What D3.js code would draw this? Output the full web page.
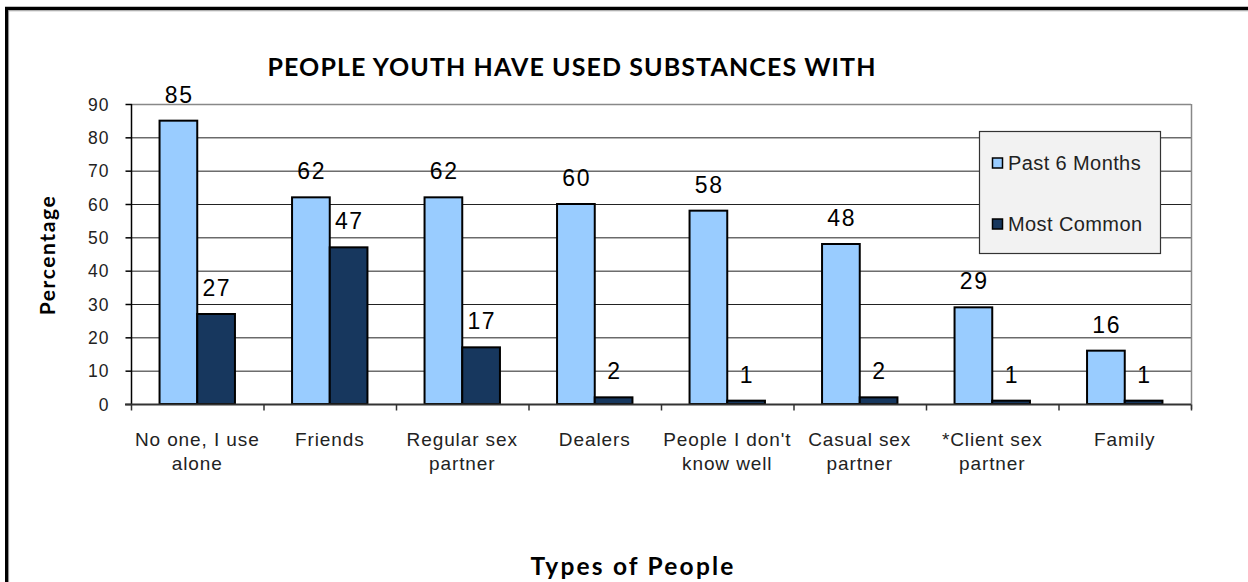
<!DOCTYPE html>
<html><head><meta charset="utf-8">
<script src="https://cdn.jsdelivr.net/npm/d3@7"></script>
<style>body{margin:0;background:#fff;}svg{display:block;}</style>
</head><body>
<svg id="c" width="1248" height="582"></svg>
<script>
const categories = [["No one, I use","alone"],["Friends"],["Regular sex","partner"],["Dealers"],["People I don't","know well"],["Casual sex","partner"],["*Client sex","partner"],["Family"]];
const seriesNames = ["Past 6 Months","Most Common"];
const past6 = [85,62,62,60,58,48,29,16];
const mostCommon = [27,47,17,2,1,2,1,1];
const yTicks = [0,10,20,30,40,50,60,70,80,90];
const colors = ["#99CCFF","#17375E"];

const svg = d3.select("#c");
const ARIAL = "Liberation Sans, Arial, sans-serif";
const CAL = "Lato, 'Open Sans', sans-serif";
// frame
svg.append("rect").attr("x",0).attr("y",0).attr("width",1248).attr("height",582).attr("fill","#fff");
svg.append("line").attr("x1",5).attr("x2",1248).attr("y1",8.5).attr("y2",8.5).attr("stroke","#000").attr("stroke-width",3.5);
svg.append("line").attr("x1",5).attr("x2",1248).attr("y1",10.8).attr("y2",10.8).attr("stroke","#aaa").attr("stroke-width",1);
svg.append("line").attr("x1",6.5).attr("x2",6.5).attr("y1",7).attr("y2",582).attr("stroke","#000").attr("stroke-width",3);
svg.append("line").attr("x1",8.6).attr("x2",8.6).attr("y1",10).attr("y2",582).attr("stroke","#888").attr("stroke-width",1);

const L=131, R=1191, T=104, B=404;
const x = d3.scaleBand().domain(d3.range(categories.length)).range([L,R]).paddingInner(0).paddingOuter(0);
const y = d3.scaleLinear().domain([0,90]).range([B,T]);
const barW = 37.7;

// gridlines
svg.append("g").selectAll("line").data(yTicks.filter(t=>t>0&&t<90)).join("line")
  .attr("x1",L).attr("x2",R).attr("y1",d=>y(d)+0.5).attr("y2",d=>y(d)+0.5).attr("stroke","#222").attr("stroke-width",1);
// plot border top/right gray
svg.append("line").attr("x1",L).attr("x2",R).attr("y1",T+0.5).attr("y2",T+0.5).attr("stroke","#888").attr("stroke-width",1.5);
svg.append("line").attr("x1",R+0.5).attr("x2",R+0.5).attr("y1",T).attr("y2",B+5).attr("stroke","#888").attr("stroke-width",1.5);

// bars
const groups = svg.append("g").selectAll("g").data(categories.map((c,i)=>i)).join("g");
[past6, mostCommon].forEach((vals,si)=>{
  groups.append("rect")
    .attr("x",i=>x(i)+x.bandwidth()/2 - barW + si*barW)
    .attr("y",i=>y(vals[i]))
    .attr("width",barW)
    .attr("height",i=>B-y(vals[i]))
    .attr("fill",colors[si]).attr("stroke","#000").attr("stroke-width",2);
  groups.append("text")
    .attr("x",i=>x(i)+x.bandwidth()/2 - barW/2 + si*barW + 0.75)
    .attr("y",i=>y(vals[i])-18)
    .attr("text-anchor","middle")
    .attr("font-family",ARIAL).attr("font-size",23).attr("letter-spacing",1.5).attr("fill","#000")
    .text(i=>vals[i]);
});

// y axis
const yAxis = d3.axisLeft(y).tickValues(yTicks).tickSize(6).tickPadding(16);
const gy = svg.append("g").attr("transform",`translate(${L+0.5},0)`).call(yAxis);
gy.select(".domain").attr("stroke","#000").attr("stroke-width",1.5).attr("d",`M0,${T}V${B}`);
gy.selectAll(".tick line").attr("stroke","#000").attr("stroke-width",1.5);
gy.selectAll(".tick text").attr("font-family",ARIAL).attr("font-size",17.5).attr("letter-spacing",1).attr("fill","#222").attr("dy","0.36em");

// x axis
const gx = svg.append("g").attr("transform",`translate(0,${B+0.5})`);
gx.append("line").attr("x1",L-6).attr("x2",R).attr("y1",0).attr("y2",0).attr("stroke","#333").attr("stroke-width",2);
const bounds = d3.range(categories.length+1).map(i=> i<categories.length ? x(i) : R);
gx.selectAll("line.t").data(bounds).join("line").attr("class","t")
  .attr("x1",d=>d+0.5).attr("x2",d=>d+0.5).attr("y1",0).attr("y2",6).attr("stroke","#333").attr("stroke-width",1.5);
const lbl = gx.selectAll("text").data(categories).join("text")
  .attr("text-anchor","middle")
  .attr("font-family",ARIAL).attr("font-size",19).attr("letter-spacing",0.9).attr("fill","#222");
lbl.each(function(c,i){
  const t=d3.select(this);
  c.forEach((line,k)=>t.append("tspan").attr("x",x(i)+x.bandwidth()/2).attr("y",41+k*24.5).text(line));
});

// titles
svg.append("text").attr("x",572).attr("y",76).attr("text-anchor","middle")
  .attr("font-family",CAL).attr("font-weight",700).attr("font-size",25).attr("letter-spacing",1.1).attr("fill","#000")
  .text("PEOPLE YOUTH HAVE USED SUBSTANCES WITH");
svg.append("text").attr("transform","translate(55,255) rotate(-90)").attr("text-anchor","middle")
  .attr("font-family",CAL).attr("font-weight",700).attr("font-size",21).attr("letter-spacing",1.6).attr("fill","#000")
  .text("Percentage");
svg.append("text").attr("x",633).attr("y",575).attr("text-anchor","middle")
  .attr("font-family",CAL).attr("font-weight",700).attr("font-size",24.5).attr("letter-spacing",2.2).attr("fill","#000")
  .text("Types of People");

// legend
const lg = svg.append("g");
lg.append("rect").attr("x",979.5).attr("y",131.5).attr("width",181).attr("height",122).attr("fill","#f2f2f2").attr("stroke","#333").attr("stroke-width",1.2);
seriesNames.forEach((n,i)=>{
  const yy = 163 + i*61;
  lg.append("rect").attr("x",992.5).attr("y",yy-5).attr("width",10).attr("height",10).attr("fill",colors[i]).attr("stroke","#000").attr("stroke-width",1.5);
  lg.append("text").attr("x",1008).attr("y",yy+7).attr("font-family",ARIAL).attr("font-size",20).attr("letter-spacing",0.4).attr("fill","#222").text(n);
});
</script>
</body></html>
